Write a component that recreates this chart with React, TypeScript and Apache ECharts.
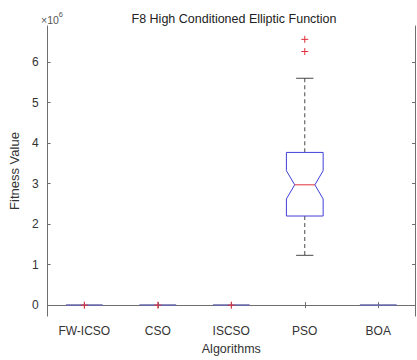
import React, { useEffect, useRef } from "react";
import * as echarts from "echarts";

const categories = ["FW-ICSO", "CSO", "ISCSO", "PSO", "BOA"];
const lowerWhisker = [0, 0, 0, 1230000, 0];
const q1 = [0, 0, 0, 2200000, 0];
const median = [0, 0, 0, 2970000, 0];
const q3 = [0, 0, 0, 3770000, 0];
const upperWhisker = [0, 0, 0, 5600000, 0];
const sampleCount = 50;
const outlierCategory = [0, 1, 2, 3, 3];
const outlierValue = [0, 0, 0, 6260000, 6560000];
const yTicks = [0, 1000000, 2000000, 3000000, 4000000, 5000000, 6000000];

const FONT = "'Liberation Sans', Arial, sans-serif";
const AXIS_COLOR = "#6e6e6e";
const BOX_COLOR = "#4040d8";
const MED_COLOR = "#e0303a";

export default function App() {
  const ref = useRef<HTMLDivElement>(null);
  useEffect(() => {
    const chart = echarts.init(ref.current!, null, { renderer: "svg" });
    const boxData = categories.map((_, i) => {
      const iqr = q3[i] - q1[i];
      const notch = (1.57 * iqr) / Math.sqrt(sampleCount);
      return [i, lowerWhisker[i], q1[i], median[i], q3[i], upperWhisker[i], median[i] - notch, median[i] + notch];
    });
    const outlierData = outlierCategory.map((c, i) => [c, outlierValue[i]]);

    const renderBox = (params: any, api: any) => {
      const idx = api.value(0);
      const lw = api.coord([idx, api.value(1)]);
      const b1 = api.coord([idx, api.value(2)]);
      const md = api.coord([idx, api.value(3)]);
      const b3 = api.coord([idx, api.value(4)]);
      const uw = api.coord([idx, api.value(5)]);
      const nLo = api.coord([idx, Math.max(api.value(6), api.value(2))]);
      const nHi = api.coord([idx, Math.min(api.value(7), api.value(4))]);
      const x = md[0];
      const hw = api.size([1, 0])[0] * 0.25;
      const inset = hw * 0.45;
      const cap = hw * 0.47;
      const dashStyle = { stroke: "#333", lineWidth: 0.9, lineDash: [4, 3] };
      const solid = { stroke: "#333", lineWidth: 0.9 };
      const children: any[] = [];
      if (uw[1] < b3[1] - 0.5) {
        children.push({ type: "line", shape: { x1: x, y1: uw[1], x2: x, y2: b3[1] }, style: dashStyle });
        children.push({ type: "line", shape: { x1: x - cap, y1: uw[1], x2: x + cap, y2: uw[1] }, style: solid });
      }
      if (lw[1] > b1[1] + 0.5) {
        children.push({ type: "line", shape: { x1: x, y1: b1[1], x2: x, y2: lw[1] }, style: dashStyle });
        children.push({ type: "line", shape: { x1: x - cap, y1: lw[1], x2: x + cap, y2: lw[1] }, style: solid });
      }
      const hasBox = b1[1] - b3[1] > 0.5;
      if (hasBox) {
        children.push({
          type: "polygon",
          shape: {
            points: [
              [x - hw, b3[1]],
              [x + hw, b3[1]],
              [x + hw, nHi[1]],
              [x + hw - inset, md[1]],
              [x + hw, nLo[1]],
              [x + hw, b1[1]],
              [x - hw, b1[1]],
              [x - hw, nLo[1]],
              [x - hw + inset, md[1]],
              [x - hw, nHi[1]],
            ],
          },
          style: { fill: "none", stroke: BOX_COLOR, lineWidth: 1 },
        });
        children.push({
          type: "line",
          shape: { x1: x - hw + inset, y1: md[1], x2: x + hw - inset, y2: md[1] },
          style: { stroke: MED_COLOR, lineWidth: 1 },
        });
      } else {
        children.push({
          type: "line",
          shape: { x1: x - hw, y1: md[1], x2: x + hw, y2: md[1] },
          style: { stroke: "#6a6aa8", lineWidth: 1.6 },
        });
      }
      return { type: "group", children };
    };

    const renderOutlier = (params: any, api: any) => {
      const p = api.coord([api.value(0), api.value(1)]);
      const s = 3.5;
      const st = { stroke: MED_COLOR, lineWidth: 1 };
      return {
        type: "group",
        children: [
          { type: "line", shape: { x1: p[0] - s, y1: p[1], x2: p[0] + s, y2: p[1] }, style: st },
          { type: "line", shape: { x1: p[0], y1: p[1] - s, x2: p[0], y2: p[1] + s }, style: st },
        ],
      };
    };

    const axisLine = { show: true, lineStyle: { color: AXIS_COLOR, width: 1 } };
    const yMin = -270000;
    const yMax = 6890000;

    chart.setOption({
      animation: false,
      backgroundColor: "#ffffff",
      title: {
        text: "F8 High Conditioned Elliptic Function",
        left: 229,
        textAlign: "center",
        top: 7,
        textStyle: { fontFamily: FONT, fontSize: 12.5, fontWeight: "normal", color: "#222" },
      },
      graphic: [
        {
          type: "text",
          left: 41,
          top: 10,
          style: {
            text: "{a|×10}{b|6}",
            rich: {
              a: { fontFamily: FONT, fontSize: 10.5, fill: "#555", padding: [4, 0, 0, 0] },
              b: { fontFamily: FONT, fontSize: 7.5, fill: "#555", verticalAlign: "top" },
            },
          },
        },
      ],
      grid: { left: 40, right: 2, top: 26, bottom: 38 },
      xAxis: [
        {
          type: "category",
          data: categories,
          position: "bottom",
          axisLine,
          axisTick: { show: true, inside: true, alignWithLabel: true, length: 3, lineStyle: { color: AXIS_COLOR } },
          axisLabel: { fontFamily: FONT, fontSize: 12, color: "#333", margin: 9 },
          name: "Algorithms",
          nameLocation: "middle",
          nameGap: 24,
          nameTextStyle: { fontFamily: FONT, fontSize: 12.5, color: "#333" },
          splitLine: { show: false },
        },
        {
          type: "category",
          data: categories,
          position: "top",
          axisLine,
          axisTick: { show: true, inside: true, alignWithLabel: true, length: 3, lineStyle: { color: AXIS_COLOR } },
          axisLabel: { show: false },
          splitLine: { show: false },
        },
      ],
      yAxis: [
        {
          type: "value",
          min: yMin,
          max: yMax,
          position: "left",
          axisLine,
          axisTick: { show: true, inside: true, length: 3, customValues: yTicks, lineStyle: { color: AXIS_COLOR } },
          axisLabel: {
            customValues: yTicks,
            fontFamily: FONT,
            fontSize: 12,
            color: "#333",
            margin: 9,
            formatter: (v: number) => String(Math.round(v / 1000000)),
          },
          splitLine: { show: false },
          name: "Fitness Value",
          nameLocation: "middle",
          nameRotate: 90,
          nameGap: 18,
          nameTextStyle: { fontFamily: FONT, fontSize: 13, color: "#333" },
        },
        {
          type: "value",
          min: yMin,
          max: yMax,
          position: "right",
          axisLine,
          axisTick: { show: true, inside: true, length: 3, customValues: yTicks, lineStyle: { color: AXIS_COLOR } },
          axisLabel: { show: false },
          splitLine: { show: false },
        },
      ],
      series: [
        {
          type: "custom",
          xAxisIndex: 0,
          yAxisIndex: 0,
          renderItem: renderBox,
          data: boxData,
          clip: false,
        },
        {
          type: "custom",
          xAxisIndex: 0,
          yAxisIndex: 0,
          renderItem: renderOutlier,
          data: outlierData,
          clip: false,
        },
      ],
    });
    return () => chart.dispose();
  }, []);
  return <div ref={ref} style={{ width: 417, height: 360, position: "absolute", left: 0, top: 0 }} />;
}
